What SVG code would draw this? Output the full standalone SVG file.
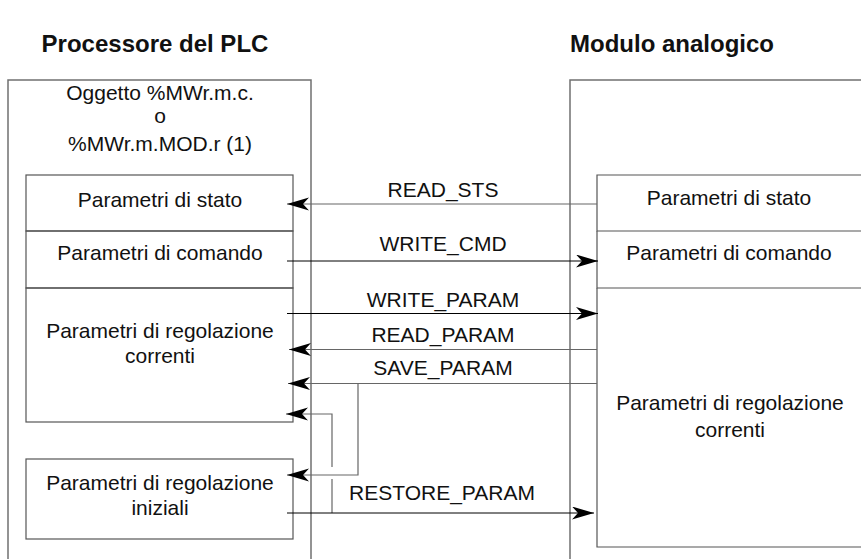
<svg xmlns="http://www.w3.org/2000/svg" width="861" height="559" viewBox="0 0 861 559">
<style>
text{font-family:"Liberation Sans",Arial,sans-serif;font-size:21px;fill:#111;text-anchor:middle}
.title{font-weight:bold;font-size:24px}
.outer{fill:none;stroke:#707070;stroke-width:1.5}
.box{fill:none;stroke:#555;stroke-width:1.2}
.c{fill:none;stroke:#000;stroke-width:1}
.g{fill:none;stroke:#666;stroke-width:1.2}
</style>
<defs>
<marker id="ah" markerUnits="userSpaceOnUse" markerWidth="24" markerHeight="14" refX="22" refY="6.5" orient="auto">
<path d="M0,0 L22,6.5 L0,13 L6,6.5 z" fill="#000"/>
</marker>
</defs>
<rect width="861" height="559" fill="#fff"/>
<g id="titles">
<text class="title" x="155" y="52">Processore del PLC</text>
<text class="title" x="672" y="52">Modulo analogico</text>
</g>
<g id="plc">
<path class="outer" d="M8,565 V80 H311 V565"/>
<text x="160" y="100">Oggetto %MWr.m.c.</text>
<text x="160" y="123">o</text>
<text x="160" y="151">%MWr.m.MOD.r (1)</text>
</g>
<g id="plc-stato">
<rect class="box" x="26" y="175" width="267" height="56"/>
<text x="160" y="207">Parametri di stato</text>
</g>
<g id="plc-comando">
<rect class="box" x="26" y="231" width="267" height="57"/>
<text x="160" y="260">Parametri di comando</text>
</g>
<g id="plc-correnti">
<rect class="box" x="26" y="288" width="267" height="134"/>
<text x="160" y="338">Parametri di regolazione</text>
<text x="160" y="363">correnti</text>
</g>
<g id="plc-iniziali">
<rect class="box" x="26" y="459" width="267" height="80"/>
<text x="160" y="490">Parametri di regolazione</text>
<text x="160" y="515">iniziali</text>
</g>
<g id="modulo">
<path class="outer" d="M570,565 V80 H870"/>
</g>
<g id="mod-stato">
<path class="box" d="M870,175 H597 V231 H870"/>
<text x="729" y="205">Parametri di stato</text>
</g>
<g id="mod-comando">
<path class="box" d="M597,231 V288 H870"/>
<text x="729" y="260">Parametri di comando</text>
</g>
<g id="mod-correnti">
<path class="box" d="M597,288 V547 H870"/>
<text x="730" y="410">Parametri di regolazione</text>
<text x="730" y="437">correnti</text>
</g>
<g id="connectors">
<path class="g" d="M597,204 H287" marker-end="url(#ah)"/>
<path class="c" d="M287,261 H598" marker-end="url(#ah)"/>
<path class="c" d="M287,313.5 H598" marker-end="url(#ah)"/>
<path class="g" d="M597,349.5 H289" marker-end="url(#ah)"/>
<path class="g" d="M597,383.5 H288" marker-end="url(#ah)"/>
<path class="g" d="M358,383.5 V475 H287" marker-end="url(#ah)"/>
<path class="g" d="M332,467 V414 H286" marker-end="url(#ah)"/>
<path class="g" d="M332,479 V513"/>
<path class="c" d="M287,513 H594" marker-end="url(#ah)"/>
<text x="443" y="197">READ_STS</text>
<text x="443" y="251">WRITE_CMD</text>
<text x="443" y="307">WRITE_PARAM</text>
<text x="443" y="342">READ_PARAM</text>
<text x="443" y="375">SAVE_PARAM</text>
<text x="442" y="500">RESTORE_PARAM</text>
</g>
</svg>
